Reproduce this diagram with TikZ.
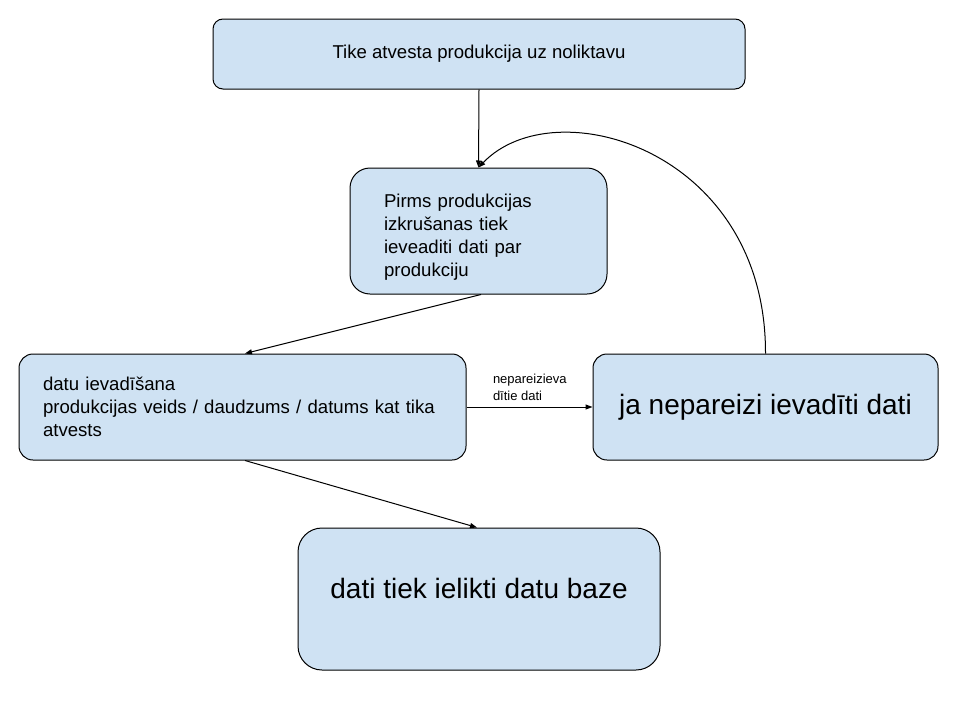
\documentclass[tikz,border=0pt]{standalone}
\usepackage{fontspec}
\setmainfont{Liberation Sans}
\usetikzlibrary{arrows.meta,calc}
\definecolor{boxfill}{HTML}{CFE2F3}
\tikzset{
  box/.style={draw=black, fill=boxfill, line width=1pt, inner sep=0pt},
  conn/.style={draw=black, line width=1pt, -{Triangle[length=7pt,width=5pt]}},
  smalltxt/.style={font=\fontsize{18.6}{23}\selectfont},
  bigtxt/.style={font=\fontsize{28}{32}\selectfont},
}
\begin{document}
\begin{tikzpicture}[x=1pt,y=-1pt]
\useasboundingbox (0,0) rectangle (960,720);
\node[box, smalltxt, rounded corners=10pt, minimum width=532pt, minimum height=70pt] (top) at (479,54) {Tike atvesta produkcija uz noliktavu};
\node[box, smalltxt, rounded corners=20pt, minimum width=257pt, minimum height=126pt, text width=189pt, align=left, inner xsep=34pt] (pirms) at (478.5,231) {\rule{0pt}{26pt}Pirms produkcijas\\izkrušanas tiek\\ieveaditi dati par\\produkciju};
\node[box, smalltxt, rounded corners=14pt, minimum width=447pt, minimum height=106pt, text width=399pt, align=left, inner xsep=24pt] (datu) at (242.5,407) {datu ievadīšana\\produkcijas veids / daudzums / datums kat tika\\atvests};
\node[box, bigtxt, rounded corners=14pt, minimum width=345pt, minimum height=106pt] (ja) at (765.5,407) {ja nepareizi ievadīti dati};
\node[box, bigtxt, rounded corners=24pt, minimum width=362pt, minimum height=142pt, text depth=22pt] (dati) at (479,599) {dati tiek ielikti datu baze};
\draw[conn] (top.south) -- (pirms.north);
\draw[conn] ([xshift=2.5pt]pirms.south) -- ([xshift=2.5pt]datu.north);
\draw[conn] (datu.east) -- node[pos=0, anchor=south west, xshift=24pt, yshift=4pt, align=left, font=\fontsize{13}{17}\selectfont, inner sep=2pt] (lbl) {nepareizieva\\dītie dati} (ja.west);
\draw[conn] ([xshift=2.5pt]datu.south) -- ([xshift=-2pt]dati.north);
\draw[conn] (ja.north) .. controls (766,150) and (555,88) .. (pirms.north);
\end{tikzpicture}
\end{document}
